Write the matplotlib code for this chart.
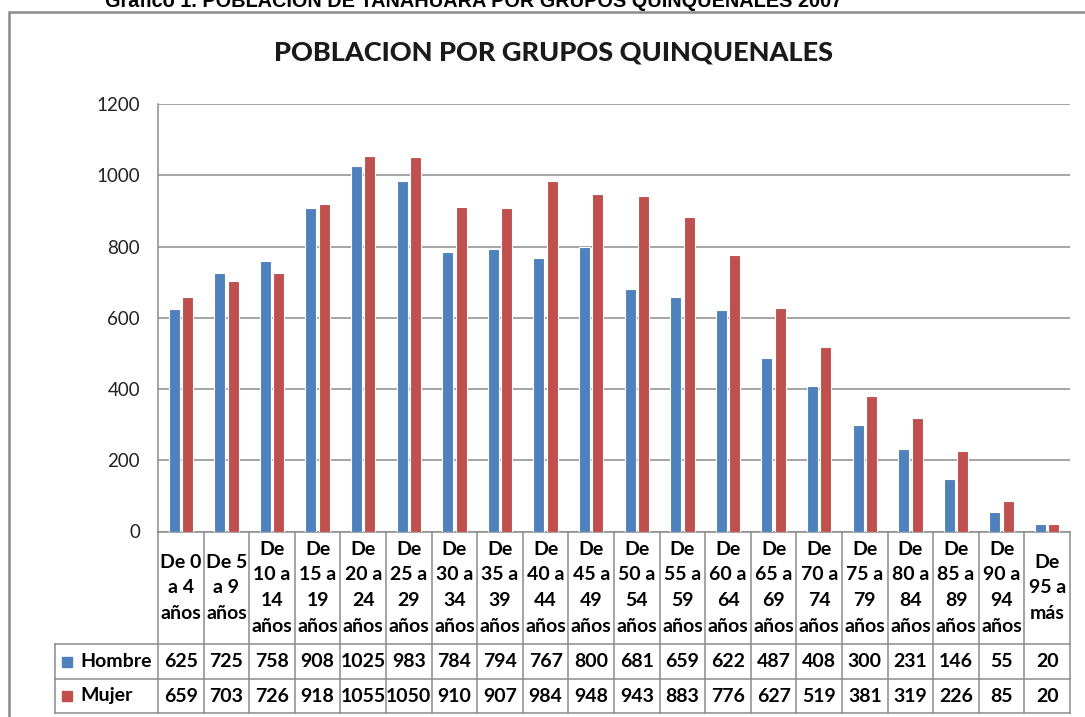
import matplotlib
matplotlib.use("Agg")
import matplotlib.pyplot as plt
import numpy as np
from matplotlib.patches import Rectangle

plt.rcParams['font.family'] = ['Lato', 'DejaVu Sans']

# data
categorias = ["De 0\na 4\naños", "De 5\na 9\naños", "De\n10 a\n14\naños", "De\n15 a\n19\naños",
              "De\n20 a\n24\naños", "De\n25 a\n29\naños", "De\n30 a\n34\naños", "De\n35 a\n39\naños",
              "De\n40 a\n44\naños", "De\n45 a\n49\naños", "De\n50 a\n54\naños", "De\n55 a\n59\naños",
              "De\n60 a\n64\naños", "De\n65 a\n69\naños", "De\n70 a\n74\naños", "De\n75 a\n79\naños",
              "De\n80 a\n84\naños", "De\n85 a\n89\naños", "De\n90 a\n94\naños", "De\n95 a\nmás"]
hombre = [625, 725, 758, 908, 1025, 983, 784, 794, 767, 800, 681, 659, 622, 487, 408, 300, 231, 146, 55, 20]
mujer = [659, 703, 726, 918, 1055, 1050, 910, 907, 984, 948, 943, 883, 776, 627, 519, 381, 319, 226, 85, 20]
series = ["Hombre", "Mujer"]
yticks = [0, 200, 400, 600, 800, 1000, 1200]

AZUL = '#4F81BD'
ROJO = '#C0504D'
GRIS = '#8C8C8C'

fig = plt.figure(figsize=(10.85, 7.17), dpi=100)

# outer frame of the chart
fig.patches.append(Rectangle((9 / 1085, -0.1), 1.2, 1 - 12 / 717 + 0.1, transform=fig.transFigure,
                             fill=False, edgecolor='#8a8a8a', linewidth=1.8))

# caption above the frame, cut at the top edge as in the source
fig.text(105 / 1085, 1 - 7 / 717, "Gráfico 1. POBLACIÓN DE TANAHUARA POR GRUPOS QUINQUENALES 2007",
         family=['Liberation Sans', 'DejaVu Sans'], fontweight='bold', fontsize=14.3,
         ha='left', va='baseline')
fig.text(553 / 1085, 1 - 52 / 717, "POBLACION POR GRUPOS QUINQUENALES", fontsize=19.5,
         fontweight='black', ha='center', va='center', color='#1a1a1a')

ax = fig.add_axes([158 / 1085, 185.5 / 717, 912 / 1085, 427.5 / 717])
x = np.arange(len(categorias))
w = 0.245
ax.bar(x - 0.147, hombre, w, color=AZUL, edgecolor='white', linewidth=0.8, zorder=3)
ax.bar(x + 0.147, mujer, w, color=ROJO, edgecolor='white', linewidth=0.8, zorder=3)

ax.set_xlim(-0.5, len(categorias) - 0.5)
ax.set_ylim(0, 1200)
ax.set_yticks(yticks)
ax.set_yticklabels([str(v) for v in yticks], fontsize=13.5, color='#222222')
ax.tick_params(axis='y', length=0, pad=13)
ax.set_xticks([])
ax.yaxis.grid(True, color=GRIS, linewidth=1.1, zorder=0)
for s in ['top', 'right', 'bottom']:
    ax.spines[s].set_visible(False)
ax.spines['left'].set_color(GRIS)
ax.spines['left'].set_linewidth(1.1)

# data table below the axis
px = 427.5  # axes height in pixels
y_hdr = -(644 - 531.5) / px
y_r1 = -(679 - 531.5) / px
y_r2 = -(713 - 531.5) / px
x_lab = -(158 - 55) / 912
trans = ax.get_xaxis_transform()
lk = dict(color=GRIS, linewidth=1.1, clip_on=False)

for i in range(len(categorias) + 1):
    ax.plot([i - 0.5, i - 0.5], [0, y_r2], transform=trans, **lk)
ax.plot([-0.5, len(categorias) - 0.5], [0, 0], transform=trans, **lk)
for yy in [y_hdr, y_r1, y_r2]:
    ax.plot([x_lab, 1], [yy, yy], transform=ax.transAxes, **lk)
ax.plot([x_lab, x_lab], [y_hdr, y_r2], transform=ax.transAxes, **lk)

for i, lab in enumerate(categorias):
    ax.text(i, y_hdr / 2, lab, transform=trans, ha='center', va='center', fontsize=14,
            fontweight='bold', linespacing=1.62)
    ax.text(i, (y_hdr + y_r1) / 2, str(hombre[i]), transform=trans, ha='center', va='center',
            fontsize=14, fontweight='bold')
    ax.text(i, (y_r1 + y_r2) / 2, str(mujer[i]), transform=trans, ha='center', va='center',
            fontsize=14, fontweight='bold')

for nombre, col, y0, y1 in [(series[0], AZUL, y_hdr, y_r1), (series[1], ROJO, y_r1, y_r2)]:
    yc = (y0 + y1) / 2
    ax.plot([-(158 - 67) / 912], [yc], marker='s', markersize=6.5, color=col,
            transform=ax.transAxes, clip_on=False, linestyle='none')
    ax.text(-(158 - 80) / 912, yc, nombre, transform=ax.transAxes, ha='left', va='center',
            fontsize=14, fontweight='bold')

fig.savefig('out.png', dpi=100)
